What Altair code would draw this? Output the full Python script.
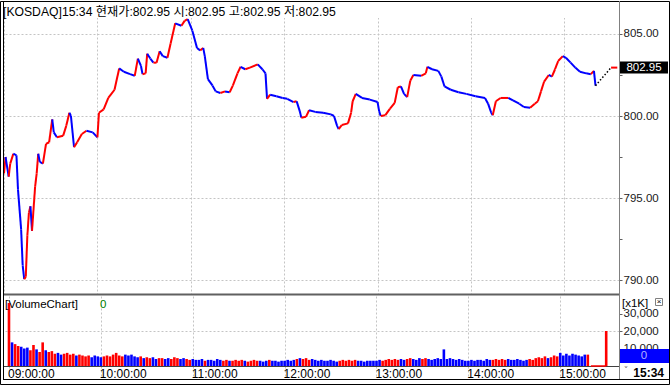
import altair as alt
import pandas as pd

# ---------------- data ----------------
TITLE = "[KOSDAQ]15:34 현재가:802.95 시:802.95 고:802.95 저:802.95"

price_times = [
    "09:00", "09:01", "09:03", "09:04", "09:06", "09:08", "09:09", "09:11", "09:12", "09:13",
    "09:14", "09:15", "09:16", "09:17", "09:18", "09:20", "09:21", "09:22", "09:23", "09:25",
    "09:27", "09:29", "09:31", "09:32", "09:34", "09:38", "09:40", "09:42", "09:43", "09:45",
    "09:47", "09:50", "09:53", "09:57", "10:00", "10:01", "10:04", "10:07", "10:11", "10:14",
    "10:17", "10:21", "10:24", "10:26", "10:28", "10:29", "10:31", "10:32", "10:34", "10:36",
    "10:38", "10:40", "10:42", "10:45", "10:47", "10:50", "10:54", "10:56", "10:58", "11:01",
    "11:04", "11:06", "11:08", "11:09", "11:11", "11:14", "11:16", "11:19", "11:22", "11:25",
    "11:27", "11:30", "11:32", "11:35", "11:38", "11:43", "11:46", "11:48", "11:49", "11:51",
    "11:55", "11:59", "12:02", "12:06", "12:08", "12:10", "12:11", "12:14", "12:16", "12:20",
    "12:25", "12:30", "12:32", "12:34", "12:35", "12:37", "12:41", "12:43", "12:44", "12:46",
    "12:50", "12:55", "13:00", "13:01", "13:02", "13:05", "13:08", "13:11", "13:13", "13:15",
    "13:17", "13:19", "13:21", "13:23", "13:28", "13:31", "13:32", "13:35", "13:39", "13:41",
    "13:43", "13:47", "13:52", "13:57", "14:03", "14:09", "14:11", "14:13", "14:14", "14:16",
    "14:19", "14:24", "14:27", "14:31", "14:34", "14:38", "14:41", "14:43", "14:45", "14:47",
    "14:50", "14:52", "14:54", "14:56", "14:59", "15:01", "15:04", "15:07", "15:10", "15:14",
    "15:17", "15:19", "15:20",
]
price_values = [
    796.5, 797.5, 796.3, 797.1, 797.7, 797.6, 795.5, 793.1, 790.9, 790.05,
    790.2, 792.7, 794.1, 794.5, 793.0, 795.7, 796.5, 797.7, 797.2, 797.1,
    798.3, 798.4, 799.8, 799.0, 798.7, 798.8, 799.4, 800.2, 800.0, 798.1,
    798.4, 798.9, 799.1, 799.0, 798.7, 800.2, 800.4, 801.1, 801.6, 802.9,
    802.7, 802.55, 802.45, 803.5, 803.05, 802.55, 802.6, 803.8, 803.5, 803.25,
    803.25, 803.95, 803.65, 803.55, 804.4, 805.65, 805.5, 805.8, 805.9, 805.2,
    804.15, 804.0, 804.15, 803.65, 802.25, 801.85, 801.5, 801.4, 801.5, 801.45,
    801.85, 802.6, 803.0, 802.85, 802.95, 803.15, 802.85, 802.6, 801.05, 801.3,
    801.2, 801.1, 801.05, 800.85, 800.9, 800.3, 799.9, 799.95, 800.35, 800.25,
    800.2, 800.1, 800.0, 799.4, 799.2, 799.45, 799.55, 800.2, 800.9, 801.35,
    801.1, 801.0, 800.85, 800.3, 800.0, 800.05, 800.45, 800.8, 801.75, 801.8,
    801.35, 801.15, 802.15, 802.5, 802.45, 802.6, 803.0, 802.85, 802.75, 802.4,
    801.8, 801.6, 801.45, 801.35, 801.2, 801.1, 800.75, 800.2, 800.05, 800.9,
    801.1, 801.1, 800.95, 800.75, 800.55, 800.5, 800.75, 800.9, 801.5, 802.1,
    802.5, 802.4, 802.85, 803.35, 803.65, 803.55, 803.25, 802.95, 802.7, 802.6,
    802.55, 802.75, 801.85,
]
auction_end = "15:30"
close_price = 802.95
last_time = "15:34"

# volume, one bar per 2 minutes, in the axis unit ([x1K])
vol_hours = ["09:00", "10:00", "11:00", "12:00", "13:00", "14:00", "15:00"]
vol_0900 = [36000, 13500, 12500, 11500, 11000, 10000, 10500, 9000, 12000, 9500,
            8000, 13500, 9000, 8000, 8500, 7000, 7500, 6500, 7000, 7500,
            6500, 7000, 6000, 6500, 6000, 5500, 6000, 5000, 6000, 5500]
vol_1000 = [5000, 5500, 6000, 5500, 6500, 7500, 6000, 5500, 6500, 6000,
            6500, 5500, 5000, 5500, 4500, 5000, 4500, 5000, 4000, 4500,
            4500, 4000, 4500, 4000, 5000, 4500, 4000, 4500, 4000, 3500]
vol_1100 = [4000, 3500, 3500, 4000, 3000, 3500, 3500, 3000, 4000, 3500,
            3000, 3500, 3000, 3000, 3500, 3000, 3500, 3000, 2500, 3000,
            3500, 3000, 3000, 2500, 3000, 3500, 3000, 3000, 2500, 3000]
vol_1200 = [3000, 3500, 3000, 3500, 4000, 4500, 4000, 4500, 3500, 4000,
            3500, 3000, 3500, 3000, 3000, 3500, 3000, 2500, 3000, 3500,
            3000, 3500, 3000, 3500, 3000, 3000, 2500, 3000, 3000, 3000]
vol_1300 = [3000, 3500, 3000, 3500, 4000, 3500, 4000, 3500, 4000, 3500,
            4000, 4500, 4000, 3500, 4500, 4000, 4500, 4000, 3500, 4000,
            4500, 4000, 9500, 4000, 4500, 4000, 3500, 4000, 3500, 3000]
vol_1400 = [3000, 3500, 3000, 3500, 3500, 3000, 4000, 3500, 3500, 4000,
            3500, 4000, 3500, 4000, 3500, 3500, 4000, 3500, 3000, 3500,
            4000, 3500, 4500, 5000, 4500, 5500, 4500, 5000, 6000, 5500]
vol_1500 = [7500, 6000, 7000, 6000, 7000, 6500, 6000, 5500, 6500, 6500]
vol_close = 20000

hour_ticks = ["09:00", "10:00", "11:00", "12:00", "13:00", "14:00", "15:00"]
price_ticks = [790, 792.5, 795, 797.5, 800, 802.5, 805]
volume_ticks = [10000, 20000, 30000]

# ---------------- build tables ----------------
def to_min(s):
    h, m = s.split(":")
    return (int(h) - 9) * 60 + int(m)

pm = [to_min(t) for t in price_times]
seg = pd.DataFrame({
    "t0": pm[:-1], "t1": pm[1:],
    "p0": price_values[:-1], "p1": price_values[1:],
})
seg["dir"] = ["up" if b >= a else "down" for a, b in zip(seg.p0, seg.p1)]

auction = pd.DataFrame({"t0": [pm[-1]], "t1": [to_min(auction_end)],
                        "p0": [price_values[-1]], "p1": [close_price]})
closing = pd.DataFrame({"t0": [to_min(auction_end)], "t1": [to_min(last_time)],
                        "p0": [close_price], "p1": [close_price]})


def direction_at(t):
    if t > pm[-1]:
        return "up" if close_price >= price_values[-1] else "down"
    for a, b, p0, p1 in zip(pm[:-1], pm[1:], price_values[:-1], price_values[1:]):
        if a < t <= b:
            return "up" if p1 >= p0 else "down"
    return "up" if price_values[1] >= price_values[0] else "down"


vt, vv = [], []
for start, vals in zip(vol_hours, [vol_0900, vol_1000, vol_1100, vol_1200,
                                   vol_1300, vol_1400, vol_1500]):
    for i, v in enumerate(vals):
        vt.append(to_min(start) + 2 * i)
        vv.append(v)
vt.append(to_min(auction_end))
vv.append(vol_close)
vol = pd.DataFrame({"t": vt, "v": vv})
vol["dir"] = [direction_at(t) for t in vol.t]

one = pd.DataFrame({"k": [0]})
hour_mins = [to_min(h) for h in hour_ticks]

# ---------------- styling ----------------
FONT = "Liberation Sans, Noto Sans CJK KR, sans-serif"
GRID = "#c4c4c4"
W = 616
PRICE_H = 293
VOL_H = 70

x_scale = alt.Scale(domain=[-0.64, 395.1], nice=False, zero=False)
price_scale = alt.Scale(domain=[789.15, 807.01], nice=False, zero=False)
vol_scale = alt.Scale(domain=[0, 40000], nice=False, zero=True)
color_scale = alt.Scale(domain=["up", "down"], range=["#ff0000", "#0000ff"])

price_x_axis = alt.Axis(values=hour_mins, grid=True, gridDash=[2, 2], gridColor=GRID,
                        labels=False, ticks=False, domain=True, domainColor="#606060",
                        domainWidth=2, title=None)
price_y_axis = alt.Axis(
    orient="right", values=price_ticks, title=None, domain=False,
    tickSize=3, tickColor="#606060",
    labelExpr="datum.value % 5 == 0 ? format(datum.value, '.2f') : ''",
    labelFont=FONT, labelFontSize=11.5, labelColor="#202020", labelPadding=1,
    labelOverlap=False,
    grid=True, gridDash=[2, 2], gridColor=GRID,
    gridOpacity={"condition": {"test": "datum.value % 5 == 0", "value": 1}, "value": 0},
)

vol_x_axis = alt.Axis(
    values=hour_mins, title=None,
    labelExpr="(datum.value < 60 ? '0' : '') + (9 + datum.value / 60) + ':00:00'",
    labelAlign="left", labelOffset=-1.5, labelBaseline="middle", labelPadding=-5,
    labelFont=FONT, labelFontSize=12, labelColor="black", labelOverlap=False,
    labelFlush=False,
    tickSize=12, tickDash=[2, 2], tickColor=GRID,
    grid=True, gridDash=[2, 2], gridColor=GRID,
    domain=True, domainColor="#404040",
)
vol_y_axis = alt.Axis(
    orient="right", values=volume_ticks, title=None, domain=False,
    labelExpr="format(datum.value, ',')",
    tickSize=3, tickColor="#606060",
    labelFont=FONT, labelFontSize=11.5, labelColor="#202020", labelPadding=1,
    labelOverlap=False,
    grid=True, gridDash=[2, 2], gridColor=GRID,
    gridOpacity={"condition": {"test": "datum.value == 20000", "value": 1}, "value": 0},
)

# ---------------- price panel ----------------
title_bg = alt.Chart(one).mark_rect(color="white").encode(
    x=alt.value(0), x2=alt.value(W), y=alt.value(0), y2=alt.value(17))
title_txt = alt.Chart(one).mark_text(
    align="left", baseline="middle", font=FONT, fontSize=12.2, color="black", text=TITLE
).encode(x=alt.value(0), y=alt.value(11))

segments = alt.Chart(seg).mark_rule(strokeWidth=2).encode(
    x=alt.X("t0:Q", scale=x_scale, axis=price_x_axis),
    x2="t1:Q",
    y=alt.Y("p0:Q", scale=price_scale, axis=price_y_axis),
    y2="p1:Q",
    color=alt.Color("dir:N", scale=color_scale, legend=None),
)
auction_line = alt.Chart(auction).mark_rule(
    strokeWidth=1.5, strokeDash=[1.5, 2], color="black"
).encode(x=alt.X("t0:Q", axis=price_x_axis), x2="t1:Q",
         y=alt.Y("p0:Q", axis=price_y_axis), y2="p1:Q")
closing_line = alt.Chart(closing).mark_rule(strokeWidth=2, color="#ff0000").encode(
    x=alt.X("t0:Q", axis=price_x_axis), x2="t1:Q",
    y=alt.Y("p0:Q", axis=price_y_axis), y2="p1:Q")

price_box = alt.Chart(one).mark_tick(
    orient="horizontal", size=49, thickness=12, color="black", opacity=1
).encode(y=alt.YDatum(close_price, axis=price_y_axis), x=alt.value(W + 24.5))
price_box_txt = alt.Chart(one).mark_text(
    align="center", baseline="middle", font=FONT, fontSize=11.5, color="white",
    text=f"{close_price:.2f}"
).encode(y=alt.YDatum(close_price, axis=price_y_axis), x=alt.value(W + 25))

price_panel = alt.layer(
    title_bg, segments, auction_line, closing_line, title_txt, price_box, price_box_txt
).properties(width=W, height=PRICE_H)

# ---------------- volume panel ----------------
bars = alt.Chart(vol).mark_bar(size=2.6).encode(
    x=alt.X("t:Q", scale=x_scale, axis=vol_x_axis),
    y=alt.Y("v:Q", scale=vol_scale, axis=vol_y_axis),
    color=alt.Color("dir:N", scale=color_scale, legend=None),
)
auction_base = alt.Chart(auction).mark_rule(strokeWidth=1.5, color="#ff0000").encode(
    x=alt.X("t0:Q", axis=vol_x_axis), x2="t1:Q", y=alt.YDatum(0, axis=vol_y_axis))

vol_label = alt.Chart(one).mark_text(
    align="left", baseline="middle", font=FONT, fontSize=11.5, color="black",
    text="[VolumeChart]").encode(x=alt.value(2), y=alt.value(9))
vol_zero = alt.Chart(one).mark_text(
    align="left", baseline="middle", font=FONT, fontSize=11.5, color="#008000",
    text="0").encode(x=alt.value(97), y=alt.value(9))
unit_label = alt.Chart(one).mark_text(
    align="left", baseline="middle", font=FONT, fontSize=11.5, color="black",
    text="[x1K]").encode(x=alt.value(W + 3), y=alt.value(8))
close_icon = alt.Chart(one).mark_rect(fill="white", stroke="#808080", strokeWidth=1).encode(
    x=alt.value(W + 36.5), x2=alt.value(W + 43.5), y=alt.value(2.5), y2=alt.value(9.5))
close_x = alt.Chart(one).mark_text(
    align="center", baseline="middle", font=FONT, fontSize=8, color="black",
    text="×").encode(x=alt.value(W + 40), y=alt.value(6))
vol_box = alt.Chart(one).mark_rect(color="#0000ff").encode(
    x=alt.value(W + 1), x2=alt.value(W + 50), y=alt.value(53), y2=alt.value(67))
vol_box_txt = alt.Chart(one).mark_text(
    align="center", baseline="middle", font=FONT, fontSize=11.5, color="#b0b0ff",
    text="0").encode(x=alt.value(W + 25), y=alt.value(60))
time_label = alt.Chart(one).mark_text(
    align="right", baseline="middle", font=FONT, fontSize=12, fontWeight="bold",
    color="black", text=last_time).encode(x=alt.value(W + 45), y=alt.value(77))
caret = alt.Chart(one).mark_text(
    align="center", baseline="middle", font="DejaVu Sans", fontSize=9, color="#606060",
    text="˅").encode(x=alt.value(W + 7), y=alt.value(74))

# frame lines (panel-local pixel positions of the window decoration)
outer = alt.Chart(one).mark_rect(filled=False, color="black", strokeWidth=1).encode(
    x=alt.value(-2.5), x2=alt.value(666.5), y=alt.value(-294.5), y2=alt.value(88.5))
inner_left = alt.Chart(one).mark_rule(color="black", strokeWidth=1).encode(
    x=alt.value(0.5), y=alt.value(-295), y2=alt.value(83))
inner_bottom = alt.Chart(one).mark_rule(color="black", strokeWidth=1).encode(
    x=alt.value(0), x2=alt.value(666), y=alt.value(83.5))
right_sep = alt.Chart(one).mark_rule(color="#808080", strokeWidth=1).encode(
    x=alt.value(W + 0.5), y=alt.value(-295), y2=alt.value(83))

vol_panel = alt.layer(
    bars, auction_base, vol_label, vol_zero, unit_label, close_icon, close_x,
    vol_box, vol_box_txt, time_label, caret, outer, inner_left, inner_bottom, right_sep
).properties(width=W, height=VOL_H)

chart = alt.vconcat(price_panel, vol_panel, spacing=2).properties(
    padding=0, background="white", bounds="flush"
).configure_view(stroke=None)

chart.save("out.html", embed_options={"renderer": "svg", "actions": False})
